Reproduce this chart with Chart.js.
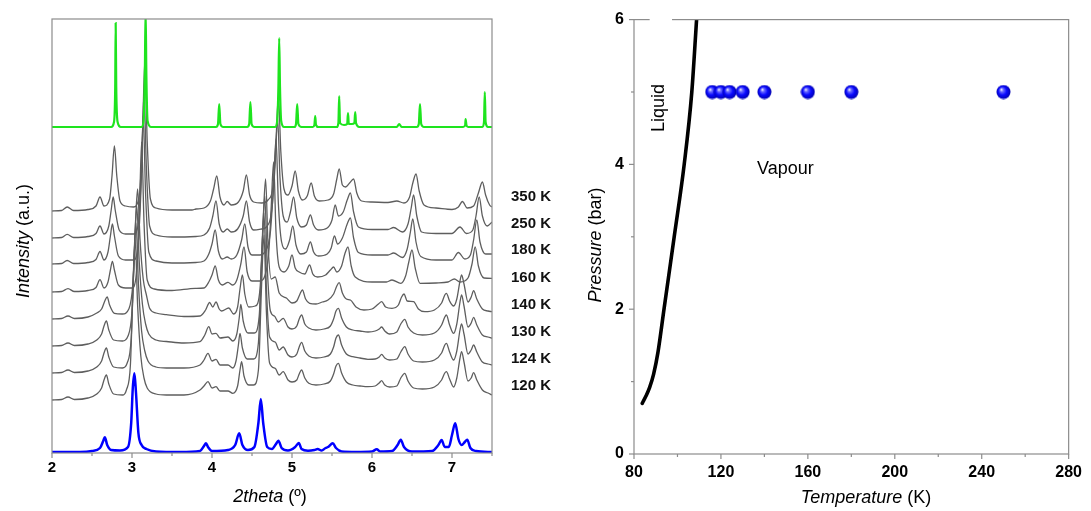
<!DOCTYPE html>
<html>
<head>
<meta charset="utf-8">
<script src="https://cdn.jsdelivr.net/npm/chart.js@4/dist/chart.umd.min.js"></script>
<style>
  html, body { margin: 0; padding: 0; background: #fff; }
  #wrap { position: relative; width: 1091px; height: 511px; }
  #left { position: absolute; left: 0; top: 0; }
  #right { position: absolute; left: 575px; top: 0; }
</style>
</head>
<body>
<div id="wrap">
  <canvas id="left" width="575" height="511"></canvas>
  <canvas id="right" width="516" height="511"></canvas>
</div>
<script>
// ---- left panel: powder patterns, [2theta, intensity above own baseline]
const tempLabels = ['350 K', '250 K', '180 K', '160 K', '140 K', '130 K', '124 K', '120 K'];
const traceOffsets = [242, 215, 189, 161, 134, 107, 80, 53];
const greenOffset = 326;

const patternGreen = [[2.00,0],[2.74,0],[2.775,5],[2.79,40],[2.796,104],[2.803,40],[2.82,5],[2.86,0],[3.12,0],[3.145,6],[3.16,50],[3.17,118],[3.18,50],[3.195,6],[3.24,0],[4.05,0],[4.075,3],[4.09,23],[4.105,3],[4.14,0],[4.44,0],[4.465,3],[4.48,25],[4.495,3],[4.53,0],[4.79,0],[4.815,6],[4.83,40],[4.84,89],[4.85,40],[4.865,6],[4.90,0],[5.03,0],[5.05,3],[5.065,23],[5.08,3],[5.12,0],[5.26,0],[5.28,2],[5.29,11],[5.30,2],[5.33,0],[5.56,0],[5.58,4],[5.59,31],[5.60,4],[5.65,2],[5.69,3],[5.70,14],[5.71,3],[5.75,3],[5.78,4],[5.79,15],[5.80,4],[5.84,0],[6.31,0],[6.34,3],[6.37,0],[6.56,0],[6.585,3],[6.60,23],[6.615,3],[6.65,0],[7.14,0],[7.165,2],[7.17,8],[7.18,2],[7.20,0],[7.38,0],[7.40,5],[7.41,35],[7.42,5],[7.45,0],[7.50,0]];

const pattern350 = [[2.00,0],[2.12,0.5],[2.19,4],[2.27,0.5],[2.45,1.5],[2.55,5],[2.60,14],[2.65,5],[2.72,12],[2.75,35],[2.78,65],[2.81,35],[2.85,10],[2.92,5],[3.02,4],[3.09,15],[3.13,70],[3.16,150],[3.19,70],[3.23,12],[3.30,3],[3.50,1],[3.75,1],[3.80,2],[3.90,3],[3.98,10],[4.02,22],[4.06,35],[4.10,14],[4.15,6],[4.19,9.5],[4.24,6],[4.33,9],[4.39,20],[4.43,36],[4.47,16],[4.52,9],[4.62,8],[4.70,11],[4.77,30],[4.80,70],[4.83,115],[4.86,60],[4.90,22],[4.95,16],[5.00,25],[5.04,40],[5.08,20],[5.13,11],[5.19,15],[5.24,28],[5.28,15],[5.34,10],[5.45,11],[5.52,17],[5.56,32],[5.59,42],[5.63,26],[5.67,24],[5.72,28],[5.77,32],[5.81,18],[5.87,10],[6.00,9],[6.20,8.5],[6.31,10],[6.40,8],[6.47,14],[6.51,28],[6.55,37],[6.59,20],[6.65,6],[6.80,3],[7.00,1.5],[7.08,4],[7.13,9.5],[7.19,3],[7.27,5],[7.33,18],[7.38,29],[7.42,16],[7.47,6],[7.50,4]];

const pattern250 = [[2.00,0],[2.12,0.5],[2.19,3.7],[2.27,0.5],[2.45,1.5],[2.55,4.5],[2.60,12],[2.65,4],[2.71,12],[2.74,28],[2.765,41],[2.79,28],[2.84,8],[2.92,4],[3.02,4],[3.08,15],[3.12,70],[3.15,145],[3.18,70],[3.22,12],[3.30,3],[3.50,1],[3.80,1.5],[3.90,3],[3.97,10],[4.01,22],[4.05,37],[4.09,14],[4.14,6],[4.19,9],[4.24,6],[4.32,9],[4.39,22],[4.43,37],[4.47,16],[4.52,8],[4.62,9],[4.68,11],[4.75,30],[4.79,75],[4.82,120],[4.85,60],[4.89,22],[4.94,16],[4.98,26],[5.02,41],[5.06,20],[5.12,11],[5.18,13],[5.23,23],[5.27,13],[5.33,8],[5.44,10],[5.50,18],[5.54,33],[5.58,22],[5.64,26],[5.69,38],[5.73,45],[5.77,26],[5.83,11],[6.00,8.5],[6.20,8.5],[6.27,10.5],[6.38,6],[6.45,14],[6.49,30],[6.52,43],[6.56,22],[6.62,6],[6.80,4.5],[7.00,4.5],[7.10,11],[7.18,4.5],[7.26,8],[7.30,22],[7.34,41],[7.38,22],[7.44,12],[7.50,16]];

const pattern180 = [[2.00,0],[2.12,0.5],[2.19,3.5],[2.27,0.5],[2.45,1.5],[2.55,4.5],[2.60,12.5],[2.65,4],[2.70,12],[2.73,28],[2.755,40],[2.78,28],[2.83,8],[2.92,4],[3.02,4],[3.07,15],[3.11,70],[3.14,148],[3.17,70],[3.21,12],[3.30,3],[3.50,1],[3.80,1.5],[3.90,3],[3.96,10],[4.00,20],[4.04,34],[4.08,13],[4.13,5],[4.19,7],[4.24,5],[4.31,9],[4.37,24],[4.41,40],[4.45,17],[4.50,9],[4.60,9],[4.66,12],[4.73,32],[4.77,80],[4.80,125],[4.83,60],[4.87,22],[4.92,15],[4.97,24],[5.01,38],[5.05,19],[5.11,10],[5.18,12],[5.23,22],[5.27,12],[5.33,8],[5.44,10],[5.49,16],[5.53,28],[5.57,20],[5.63,26],[5.69,40],[5.73,46],[5.77,26],[5.83,11.5],[6.00,9],[6.20,9],[6.27,11],[6.38,6.5],[6.44,15],[6.48,32],[6.51,45],[6.55,22],[6.61,7.5],[6.80,4],[7.00,4],[7.08,11.5],[7.16,5],[7.23,9],[7.27,24],[7.31,44],[7.35,22],[7.42,10],[7.50,10]];

const pattern160 = [[2.00,0],[2.12,0.5],[2.20,3.3],[2.28,0.5],[2.45,1.5],[2.55,4.5],[2.60,12.3],[2.65,4],[2.70,10],[2.73,22],[2.755,30.7],[2.78,22],[2.83,7],[2.92,4],[3.00,4],[3.05,15],[3.09,70],[3.12,150],[3.15,70],[3.19,12],[3.28,3],[3.50,1.5],[3.79,3.7],[3.90,4],[3.96,10],[4.00,17],[4.04,26],[4.08,12],[4.13,7],[4.20,9.7],[4.26,7],[4.31,12],[4.36,28],[4.40,45],[4.44,20],[4.50,11],[4.60,11],[4.66,16],[4.71,40],[4.74,85],[4.77,130],[4.80,60],[4.84,25],[4.90,20],[4.96,26],[5.00,37],[5.04,24],[5.09,20],[5.16,18],[5.22,27],[5.26,18],[5.32,15],[5.42,17],[5.48,22],[5.52,25],[5.56,20],[5.62,26],[5.66,38],[5.70,45],[5.74,26],[5.79,15],[6.00,10],[6.18,10],[6.25,12],[6.36,8.7],[6.42,16],[6.46,30],[6.50,42],[6.54,24],[6.60,8.7],[6.80,9],[6.95,10],[7.03,13],[7.10,10],[7.20,14],[7.25,28],[7.29,45],[7.33,26],[7.40,14],[7.50,13.7]];

const pattern140 = [[2.00,0],[2.12,0.5],[2.20,3],[2.28,0.5],[2.45,2],[2.56,6],[2.62,10],[2.66,18],[2.69,22],[2.72,14],[2.78,5.7],[2.88,5],[2.96,10],[3.01,35],[3.04,90],[3.07,130],[3.10,80],[3.14,40],[3.18,24],[3.22,10.7],[3.30,6],[3.43,4.3],[3.65,2.5],[3.85,3],[3.92,9],[3.97,16.5],[4.01,12],[4.05,17],[4.09,10],[4.12,8],[4.21,11],[4.27,5],[4.32,12],[4.35,30],[4.38,44],[4.41,25],[4.46,12],[4.54,13],[4.60,30],[4.64,100],[4.67,140],[4.70,75],[4.74,40],[4.79,42],[4.84,26],[4.93,21],[5.00,16],[5.06,18],[5.10,25],[5.13,29],[5.17,20],[5.22,15.7],[5.30,15],[5.38,17],[5.45,19],[5.52,25],[5.56,33],[5.59,36.3],[5.63,26],[5.68,20],[5.73,19],[5.80,12],[5.90,9],[6.00,10],[6.08,15],[6.12,17.3],[6.17,12],[6.25,10.7],[6.33,14],[6.37,22],[6.40,25],[6.44,18],[6.52,17.3],[6.58,10],[6.66,7.3],[6.78,9],[6.87,16],[6.91,24],[6.93,25.7],[6.97,18],[7.02,13],[7.06,20],[7.10,38],[7.12,44],[7.15,35],[7.20,17],[7.24,22],[7.27,28.3],[7.31,20],[7.38,10],[7.45,8],[7.50,7.3]];

const pattern130 = [[2.00,0],[2.12,0.5],[2.20,3],[2.28,0.5],[2.45,2],[2.56,6],[2.62,12],[2.65,20],[2.68,25],[2.71,16],[2.77,6],[2.88,5],[2.95,10],[3.00,35],[3.03,95],[3.06,140],[3.09,85],[3.13,42],[3.17,22],[3.21,12],[3.30,6],[3.43,4.5],[3.65,3],[3.85,4.3],[3.91,11],[3.96,19.3],[4.00,12],[4.05,12.7],[4.10,8],[4.20,9],[4.26,5],[4.31,12],[4.34,28],[4.36,41.7],[4.39,25],[4.45,13],[4.53,13],[4.59,30],[4.63,105],[4.66,150],[4.69,80],[4.73,35],[4.78,30],[4.83,24],[4.89,27.7],[4.95,19],[5.00,17],[5.06,20],[5.09,27],[5.12,31],[5.16,22],[5.21,18],[5.30,16],[5.40,17],[5.48,20],[5.52,27],[5.55,35],[5.58,37.7],[5.62,28],[5.68,19],[5.76,16],[5.85,15],[5.95,14],[6.04,15],[6.09,17],[6.12,19],[6.16,15],[6.22,12],[6.31,14],[6.36,22],[6.41,26.7],[6.45,19],[6.52,13],[6.63,11],[6.78,13],[6.87,21],[6.91,29],[6.93,31],[6.97,21],[7.02,12.7],[7.06,22],[7.10,44],[7.12,51],[7.15,40],[7.20,19],[7.24,23],[7.27,28.7],[7.31,21],[7.38,11],[7.45,9],[7.50,7.7]];

const pattern124 = [[2.00,0],[2.12,0.5],[2.20,3],[2.28,0.5],[2.45,2],[2.56,6],[2.62,12],[2.65,20],[2.68,25],[2.71,16],[2.77,6],[2.88,5],[2.94,10],[2.99,35],[3.02,100],[3.05,150],[3.08,90],[3.12,42],[3.16,22],[3.20,12],[3.30,6],[3.43,5],[3.65,5],[3.85,8],[3.90,13],[3.95,19.7],[4.00,12],[4.05,13.7],[4.10,8],[4.20,8],[4.26,5],[4.30,12],[4.33,28],[4.35,39.7],[4.38,25],[4.44,14],[4.52,14],[4.58,30],[4.62,110],[4.65,160],[4.68,85],[4.72,36],[4.79,31],[4.84,23],[4.89,26],[4.95,18],[5.00,16],[5.06,19],[5.09,26],[5.12,30.7],[5.16,22],[5.21,17],[5.30,15],[5.40,16],[5.48,19],[5.52,26],[5.55,35],[5.58,38],[5.62,28],[5.68,19],[5.76,16.3],[5.85,15],[5.95,13.7],[6.04,14],[6.09,16],[6.12,18.7],[6.16,15],[6.22,13],[6.31,14],[6.36,21],[6.41,26.3],[6.45,19],[6.52,12],[6.63,11],[6.78,13],[6.87,20],[6.91,28],[6.93,29.7],[6.97,21],[7.02,13],[7.06,22],[7.10,43],[7.12,49],[7.15,39],[7.20,19],[7.24,23],[7.27,28],[7.31,21],[7.38,11],[7.45,9],[7.50,8]];

const pattern120 = [[2.00,0],[2.12,0.5],[2.20,3],[2.28,0.5],[2.45,2],[2.56,6],[2.62,12],[2.65,20],[2.68,25],[2.71,16],[2.77,6],[2.88,5],[2.93,10],[2.98,35],[3.01,105],[3.04,160],[3.07,95],[3.11,44],[3.15,22],[3.19,12],[3.30,6],[3.43,5],[3.65,5],[3.85,10],[3.90,14],[3.95,18.3],[4.00,12],[4.05,13.3],[4.10,9],[4.20,9],[4.26,6.7],[4.32,14],[4.35,30],[4.37,38.3],[4.40,24],[4.46,15],[4.52,15],[4.58,30],[4.62,115],[4.65,165],[4.68,88],[4.72,37],[4.79,31.7],[4.84,25],[4.89,28.3],[4.95,20],[5.00,18],[5.06,20],[5.09,26],[5.12,30],[5.16,22],[5.21,16.7],[5.30,15],[5.40,16],[5.48,19],[5.52,26],[5.55,34],[5.58,36.7],[5.62,27],[5.68,18],[5.76,15],[5.85,14],[5.95,13.3],[6.04,14],[6.09,17],[6.12,19.3],[6.16,15],[6.22,13],[6.31,14],[6.36,22],[6.41,26.7],[6.45,19],[6.52,12],[6.63,11],[6.78,13],[6.87,20],[6.91,27],[6.93,28.3],[6.97,21],[7.02,13],[7.06,22],[7.10,42],[7.12,48.3],[7.15,38],[7.20,19],[7.24,22],[7.27,27.3],[7.31,20],[7.38,10],[7.45,7],[7.50,5]];

const patternBlue = [[2.00,1],[2.35,1],[2.50,2],[2.60,5],[2.64,12],[2.66,15.7],[2.69,8],[2.74,3],[2.85,2.5],[2.95,6],[2.99,30],[3.01,65],[3.03,79.7],[3.05,60],[3.08,20],[3.12,8],[3.18,4],[3.30,1.5],[3.60,1],[3.85,2],[3.90,7],[3.925,9.7],[3.95,6],[4.00,2],[4.20,3],[4.29,8],[4.34,19.7],[4.38,8],[4.45,3],[4.53,6],[4.58,30],[4.61,54],[4.64,30],[4.69,6],[4.75,4],[4.80,9],[4.83,12.3],[4.87,5],[4.95,2.5],[5.04,6],[5.085,10],[5.12,4],[5.20,2.3],[5.28,3],[5.32,4],[5.37,2.5],[5.42,5],[5.45,6],[5.51,9.7],[5.55,5],[5.62,1.5],[5.80,1],[6.00,1.5],[6.06,3.7],[6.10,1.5],[6.25,2],[6.32,8],[6.36,13.3],[6.40,6],[6.50,1.5],[6.75,2],[6.83,8],[6.87,13],[6.91,6],[6.96,6],[7.00,18],[7.04,29.7],[7.08,14],[7.12,8],[7.16,11],[7.19,13.3],[7.23,5],[7.30,2],[7.50,1]];

const greyPatterns = [pattern350, pattern250, pattern180, pattern160, pattern140, pattern130, pattern124, pattern120];

// ---- right panel: vapour pressure curve and measurement points
const vpTemp = [83.8, 85.5, 87.2, 89.0, 91.0, 93.8, 98.5, 103.1, 106.6, 108.8];
const vpPressure = [0.70, 0.80, 0.92, 1.10, 1.40, 2.0, 3.0, 4.0, 5.0, 6.0];
const expTemp = [116, 120, 124, 130, 140, 160, 180, 250];
const expPressure = [5, 5, 5, 5, 5, 5, 5, 5];

const frameColor = '#8c8c8c';
const sans = '"Liberation Sans", Arial, sans-serif';

function toXY(pairs, offset) {
  return pairs.map(p => ({ x: p[0], y: p[1] + offset }));
}

function drawMixed(ctx, parts, cx, cy, angle) {
  ctx.save();
  ctx.translate(cx, cy);
  ctx.rotate(angle);
  ctx.textBaseline = 'middle';
  ctx.textAlign = 'left';
  let total = 0;
  parts.forEach(p => { ctx.font = p[0] + '18px ' + sans; total += ctx.measureText(p[1]).width; });
  let x = -total / 2;
  parts.forEach(p => {
    ctx.font = p[0] + '18px ' + sans;
    ctx.fillText(p[1], x, 0);
    x += ctx.measureText(p[1]).width;
  });
  ctx.restore();
}

function tick(ctx, x1, y1, x2, y2) {
  ctx.beginPath(); ctx.moveTo(x1, y1); ctx.lineTo(x2, y2); ctx.stroke();
}

const leftDecor = {
  id: 'leftDecor',
  afterDraw(chart) {
    const { ctx, chartArea: a } = chart;
    const x = chart.scales.x, y = chart.scales.y;
    ctx.save();
    ctx.strokeStyle = frameColor;
    ctx.lineWidth = 1.2;
    ctx.strokeRect(a.left, a.top, a.right - a.left, a.bottom - a.top);
    for (let v = 2; v <= 7.5; v += 0.5) {
      const px = x.getPixelForValue(v);
      tick(ctx, px, a.bottom, px, a.bottom + (Number.isInteger(v) ? 5 : 3));
    }
    ctx.fillStyle = '#111';
    ctx.font = 'bold 15px ' + sans;
    ctx.textBaseline = 'middle';
    tempLabels.forEach((t, i) => {
      ctx.fillText(t, a.right + 19, y.getPixelForValue(traceOffsets[i]) - 14);
    });
    ctx.fillStyle = '#000';
    drawMixed(ctx, [['italic ', 'Intensity'], ['', ' (a.u.)']], 24, 241, -Math.PI / 2);
    drawMixed(ctx, [['italic ', '2theta'], ['', ' (º)']], 270, 497, 0);
    ctx.restore();
  }
};

const datasetsLeft = [];
datasetsLeft.push({ data: toXY(patternGreen, greenOffset), borderColor: '#1ee41e', borderWidth: 2.2 });
greyPatterns.forEach((p, i) => {
  datasetsLeft.push({ data: toXY(p, traceOffsets[i]), borderColor: '#5e5e5e', borderWidth: 1.3 });
});
datasetsLeft.push({ data: toXY(patternBlue, 0), borderColor: '#0000ff', borderWidth: 2.5 });

new Chart(document.getElementById('left'), {
  type: 'line',
  data: { datasets: datasetsLeft },
  options: {
    responsive: false,
    animation: false,
    events: [],
    layout: { padding: { left: 52, right: 83, top: 19, bottom: 0 } },
    elements: { point: { radius: 0 }, line: { cubicInterpolationMode: 'monotone' } },
    plugins: { legend: { display: false }, tooltip: { enabled: false } },
    scales: {
      x: {
        type: 'linear', min: 2, max: 7.5,
        grid: { display: false, drawTicks: false },
        border: { display: false },
        ticks: {
          stepSize: 1, padding: 6, color: '#000',
          font: { family: sans, size: 15, weight: 'bold' },
          callback: v => Number.isInteger(v) ? v : ''
        },
        afterFit: s => { s.height = 58; }
      },
      y: { type: 'linear', min: 0, max: 434, display: false }
    }
  },
  plugins: [leftDecor]
});

// ---- right panel
const ball = document.createElement('canvas');
ball.width = 15; ball.height = 15;
(function () {
  const c = ball.getContext('2d');
  const g = c.createRadialGradient(5.3, 5, 0.3, 7.5, 7.5, 7.4);
  g.addColorStop(0, '#f0f0ff');
  g.addColorStop(0.2, '#6f6fff');
  g.addColorStop(0.55, '#0a0aff');
  g.addColorStop(1, '#0000a8');
  c.fillStyle = g;
  c.beginPath(); c.arc(7.5, 7.5, 7, 0, Math.PI * 2); c.fill();
})();

const rightDecor = {
  id: 'rightDecor',
  afterDraw(chart) {
    const { ctx, chartArea: a } = chart;
    const x = chart.scales.x, y = chart.scales.y;
    ctx.save();
    ctx.strokeStyle = frameColor;
    ctx.lineWidth = 1.2;
    ctx.strokeRect(a.left, a.top, a.right - a.left, a.bottom - a.top);
    // small break in the top frame line
    ctx.fillStyle = '#fff';
    const g1 = x.getPixelForValue(87.2), g2 = x.getPixelForValue(97.5);
    ctx.fillRect(g1, a.top - 2, g2 - g1, 4);
    for (let v = 80; v <= 280; v += 20) {
      const px = x.getPixelForValue(v);
      tick(ctx, px, a.bottom, px, a.bottom + (v % 40 === 0 ? 5 : 3));
    }
    for (let v = 0; v <= 6; v += 1) {
      const py = y.getPixelForValue(v);
      tick(ctx, a.left, py, a.left - (v % 2 === 0 ? 5 : 3), py);
    }
    ctx.fillStyle = '#000';
    drawMixed(ctx, [['italic ', 'Pressure'], ['', ' (bar)']], 21, 245, -Math.PI / 2);
    drawMixed(ctx, [['italic ', 'Temperature'], ['', ' (K)']], 291, 498, 0);
    ctx.font = '18px ' + sans;
    ctx.textAlign = 'center';
    ctx.textBaseline = 'middle';
    ctx.fillText('Vapour', x.getPixelForValue(149.7), y.getPixelForValue(3.94));
    ctx.save();
    ctx.translate(x.getPixelForValue(91.3), y.getPixelForValue(4.78));
    ctx.rotate(-Math.PI / 2);
    ctx.fillText('Liquid', 0, 0);
    ctx.restore();
    ctx.restore();
  }
};

new Chart(document.getElementById('right'), {
  type: 'line',
  data: {
    datasets: [
      {
        type: 'scatter',
        data: expTemp.map((t, i) => ({ x: t, y: expPressure[i] })),
        pointStyle: ball, pointRadius: 7, showLine: false
      },
      {
        data: vpTemp.map((t, i) => ({ x: t, y: vpPressure[i] })),
        borderColor: '#000', borderWidth: 3.6, pointRadius: 0,
        cubicInterpolationMode: 'monotone', borderCapStyle: 'round'
      }
    ]
  },
  options: {
    responsive: false,
    animation: false,
    events: [],
    layout: { padding: { left: 0, right: 15, top: 19, bottom: 0 } },
    plugins: { legend: { display: false }, tooltip: { enabled: false } },
    scales: {
      x: {
        type: 'linear', min: 80, max: 280,
        grid: { display: false, drawTicks: false },
        border: { display: false },
        ticks: { stepSize: 40, padding: 9, color: '#000', font: { family: sans, size: 16, weight: 'bold' } },
        afterFit: s => { s.height = 57; }
      },
      y: {
        type: 'linear', min: 0, max: 6,
        grid: { display: false, drawTicks: false },
        border: { display: false },
        ticks: { stepSize: 2, padding: 10, color: '#000', font: { family: sans, size: 16, weight: 'bold' } },
        afterFit: s => { s.width = 59; }
      }
    }
  },
  plugins: [rightDecor]
});
</script>
</body>
</html>
